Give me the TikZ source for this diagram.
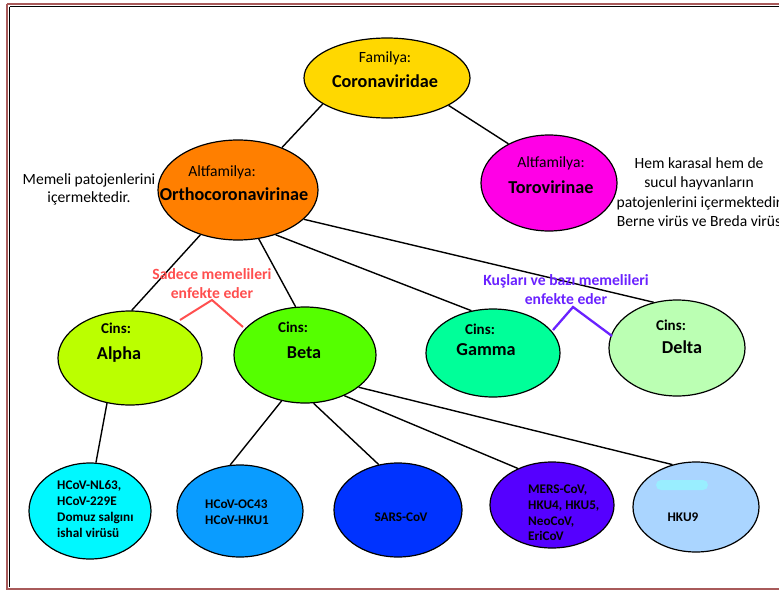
\documentclass[tikz,border=0pt]{standalone}
\usepackage{fontspec}
\setmainfont{Carlito}
\usetikzlibrary{shapes.geometric}
\definecolor{frameC}{HTML}{A85A5A}
\definecolor{corC}{HTML}{FFD800}
\definecolor{orthoC}{HTML}{FF7F00}
\definecolor{toroC}{HTML}{FF00E6}
\definecolor{alphaC}{HTML}{BBFF00}
\definecolor{betaC}{HTML}{55FF00}
\definecolor{gammaC}{HTML}{00FF99}
\definecolor{deltaC}{HTML}{BBFFB3}
\definecolor{cyanC}{HTML}{00F8FF}
\definecolor{ocC}{HTML}{0A9CFF}
\definecolor{sarsC}{HTML}{0033FF}
\definecolor{mersC}{HTML}{5500FF}
\definecolor{hkuC}{HTML}{AAD5FF}
\definecolor{smudgeC}{HTML}{99EEFF}
\definecolor{redC}{HTML}{FF4F4F}
\definecolor{purpC}{HTML}{6A22FF}
\tikzset{
  ell/.style={draw=black, line width=1.2pt, ellipse, inner sep=0pt},
  conn/.style={draw=black, line width=1.4pt},
  reg/.style={font=\fontsize{15.6}{18}\selectfont, inner sep=0pt},
  big/.style={font=\fontsize{18.2}{21}\selectfont\bfseries, inner sep=0pt},
  cins/.style={font=\fontsize{15}{18}\selectfont\bfseries, inner sep=0pt},
  small/.style={font=\fontsize{13.2}{15.7}\selectfont\bfseries, inner sep=0pt, align=left},
  note/.style={font=\fontsize{15.6}{19}\selectfont\bfseries, inner sep=0pt, align=center},
}
\begin{document}
\begin{tikzpicture}[x=1pt,y=-1pt]
\useasboundingbox (0,0) rectangle (779,592);
\clip (0,0) rectangle (779,592);
% frame
\draw[frameC, line width=2.5pt] (7,4) -- (800,4) (7,4) -- (7,589) -- (800,589);
\draw[black, line width=0.6pt] (9.5,6.5) -- (800,6.5) (9.5,6.5) -- (9.5,586.5);
% ellipses
\node[ell, fill=corC, minimum width=166pt, minimum height=80pt] (cor) at (387,78) {};
\node[ell, fill=orthoC, minimum width=160pt, minimum height=100pt] (ortho) at (238,190) {};
\node[ell, fill=toroC, minimum width=136pt, minimum height=96pt] (toro) at (549,183) {};
\node[ell, fill=alphaC, minimum width=144pt, minimum height=94pt] (alpha) at (130,358) {};
\node[ell, fill=betaC, minimum width=142pt, minimum height=96pt] (beta) at (305,355) {};
\node[ell, fill=gammaC, minimum width=134pt, minimum height=88pt] (gamma) at (493,353) {};
\node[ell, fill=deltaC, minimum width=136pt, minimum height=96pt] (delta) at (677,348) {};
\node[ell, fill=cyanC, minimum width=122pt, minimum height=96pt] (nl) at (90,511) {};
\node[ell, fill=ocC, minimum width=126pt, minimum height=92pt] (oc) at (240,511) {};
\node[ell, fill=sarsC, minimum width=128pt, minimum height=94pt] (sars) at (398,510) {};
\node[ell, fill=mersC, minimum width=124pt, minimum height=86pt] (mers) at (552,505) {};
\node[ell, fill=hkuC, minimum width=126pt, minimum height=90pt] (hku) at (696,507) {};
\node[fill=smudgeC, rounded corners=5pt, minimum width=52pt, minimum height=10pt, inner sep=0pt] (smudge) at (682,485) {};
% connectors
\draw[conn] (cor.202) -- (ortho.44);
\draw[conn] (cor.336) -- (toro.136);
\draw[conn] (ortho.230) -- (alpha.88);
\draw[conn] (ortho.293) -- (beta.101);
\draw[conn] (ortho.310) -- (gamma.117);
\draw[conn] (ortho.336) -- (delta.117);
\draw[conn] (alpha.243) -- (nl.83);
\draw[conn] (beta.243) -- (oc.102);
\draw[conn] (beta.280) -- (sars.113);
\draw[conn] (beta.314) -- (mers.133);
\draw[conn] (beta.329) -- (hku.119);
% red annotation
\coordinate (rl) at (180,320);
\coordinate (rp) at (212,300);
\coordinate (rr) at (243,327);
\draw[redC, line width=2pt] (rl) -- (rp) -- (rr);
\node[note, text=redC] (rednote) at (212,284) {Sadece memelileri\\enfekte eder};
% purple annotation
\coordinate (pl) at (553,330);
\coordinate (pp) at (573,307);
\coordinate (pr) at (612,336);
\draw[purpC, line width=2.3pt] (pl) -- (pp) -- (pr);
\node[note, text=purpC] (purpnote) at (566,290) {Kuşları ve bazı memelileri\\enfekte eder};
% texts
\node[reg] (t1) at (385,58) {Familya:};
\node[big] (t2) at (385,81) {Coronaviridae};
\node[reg] (t3) at (222,172) {Altfamilya:};
\node[big] (t4) at (234,194) {Orthocoronavirinae};
\node[reg] (t5) at (551,163) {Altfamilya:};
\node[big] (t6) at (551,187) {Torovirinae};
\node[reg, align=center] (t7) at (89,189) {Memeli patojenlerini\\içermektedir.};
\node[reg, align=center, font=\fontsize{15.6}{19.3}\selectfont] (t8) at (699,192) {Hem karasal hem de\\sucul hayvanların\\patojenlerini içermektedir\\Berne virüs ve Breda virüs};
\node[cins] (a1) at (116,328) {Cins:};
\node[big] (a2) at (119,355) {Alpha};
\node[cins] (b1) at (293,327) {Cins:};
\node[big] (b2) at (304,353) {Beta};
\node[cins] (g1) at (480,329) {Cins:};
\node[big] (g2) at (486,350) {Gamma};
\node[cins] (d1) at (671,325) {Cins:};
\node[big] (d2) at (682,347) {Delta};
\node[small, anchor=west] (n1) at (57,509) {HCoV-NL63,\\HCoV-229E\\Domuz salgını\\ishal virüsü};
\node[small, anchor=west] (n2) at (205,512) {HCoV-OC43\\HCoV-HKU1};
\node[small] (n3) at (401,517) {SARS-CoV};
\node[small, anchor=west] (n4) at (528,513) {MERS-CoV,\\HKU4, HKU5,\\NeoCoV,\\EriCoV};
\node[small] (n5) at (683,517) {HKU9};
\end{tikzpicture}
\end{document}
